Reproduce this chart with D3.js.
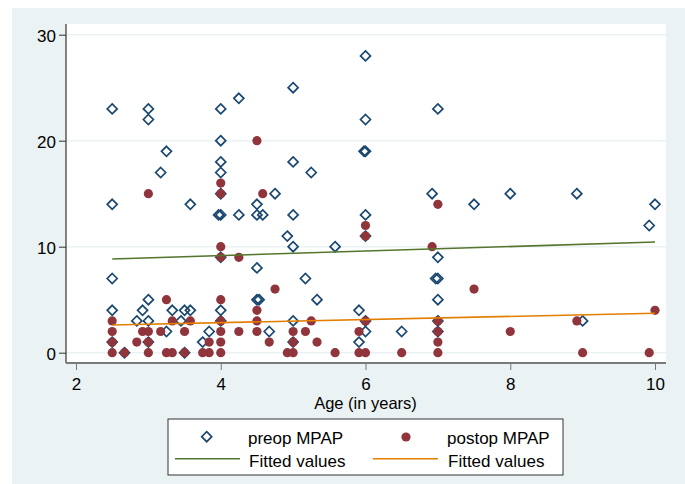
<!DOCTYPE html>
<html>
<head>
<meta charset="utf-8">
<script src="https://cdn.jsdelivr.net/npm/d3@7"></script>
<style>
  body { margin: 0; background: #fff; }
  text { font-family: "Liberation Sans", Arial, sans-serif; fill: #000; }
</style>
</head>
<body>
<svg id="chart"></svg>
<script>
// data
const preopAge = [2.5, 2.5, 2.5, 2.5, 2.5, 2.67, 2.84, 2.92, 3, 3, 3, 3, 3, 3.17, 3.25, 3.25, 3.33, 3.45, 3.5, 3.5,
  3.58, 3.58, 3.75, 3.84, 4, 4, 4, 4, 4, 4, 3.97, 4, 4, 4, 4.25, 4.25, 4.5, 4.5, 4.5, 4.5, 4.53, 4.58, 4.67, 4.75,
  4.92, 5, 5, 5, 5, 5, 5, 5.17, 5.25, 5.33, 5.58, 5.91, 5.91, 6, 6, 6, 5.98, 6, 6, 6, 6, 6.5, 6.92,
  7, 7, 7, 6.97, 7, 7, 7, 7.5, 8, 8.92, 9, 9.92, 10];
const preopMpap = [23, 14, 7, 4, 1, 0, 3, 4, 23, 22, 5, 3, 1, 17, 19, 2, 4, 3, 4, 0,
  14, 4, 1, 2, 23, 20, 18, 17, 15, 13, 13, 9, 4, 3, 24, 13, 14, 13, 8, 5, 5, 13, 2, 15,
  11, 25, 18, 13, 10, 3, 1, 7, 17, 5, 10, 4, 1, 28, 22, 19, 19, 13, 11, 3, 2, 2, 15,
  23, 9, 7, 7, 5, 3, 2, 14, 15, 15, 3, 12, 14];

const postopAge = [2.5, 2.5, 2.5, 2.5, 2.67, 2.84, 2.92, 3, 3, 3, 3, 3.17, 3.25, 3.25, 3.33, 3.33, 3.5, 3.5, 3.58,
  3.75, 3.84, 3.84, 4, 4, 4, 4, 4, 4, 4, 4, 4, 4.25, 4.25, 4.5, 4.5, 4.5, 4.5, 4.58, 4.67, 4.75, 4.92,
  5, 5, 5, 5.17, 5.25, 5.33, 5.58, 5.91, 5.91, 6, 6, 6, 6, 6.5, 6.92, 7, 7, 7, 7, 7, 7.5, 8, 8.92, 9, 9.92, 10];
const postopMpap = [3, 2, 1, 0, 0, 1, 2, 15, 2, 1, 0, 2, 5, 0, 3, 0, 2, 0, 3,
  0, 1, 0, 16, 15, 10, 9, 5, 3, 2, 1, 0, 9, 2, 20, 4, 3, 2, 15, 1, 6, 0,
  2, 1, 0, 2, 3, 1, 0, 2, 0, 12, 11, 3, 0, 0, 10, 14, 3, 2, 1, 0, 6, 2, 3, 0, 0, 4];

// fitted lines (end points)
const fitAge = [2.5, 10];
const fitPreop = [8.84, 10.44];
const fitPostop = [2.61, 3.72];

const xTicks = [2, 4, 6, 8, 10];
const yTicks = [0, 10, 20, 30];

const navy = "#1a476f", maroon = "#90353b", green = "#55752f", orange = "#e37e00";
const bg = "#eaf2f3";

const width = 685, height = 484;
const plot = { left: 66, right: 666, top: 24, bottom: 363 };

const svg = d3.select("#chart").attr("width", width).attr("height", height);

// outer background + plot region
svg.append("rect").attr("x", 12).attr("y", 8).attr("width", width - 12).attr("height", height - 8).attr("fill", bg);
svg.append("rect").attr("x", plot.left).attr("y", plot.top)
  .attr("width", plot.right - plot.left).attr("height", plot.bottom - plot.top).attr("fill", "#fff");

const x = d3.scaleLinear().domain([2, 10]).range([76, 655]);
const y = d3.scaleLinear().domain([0, 30]).range([352.7, 34.7]);

// grid
svg.append("g").selectAll("line")
  .data(yTicks)
  .join("line")
  .attr("x1", plot.left).attr("x2", plot.right)
  .attr("y1", d => y(d)).attr("y2", d => y(d))
  .attr("stroke", bg).attr("stroke-width", 1.6);

// axes
const yAxis = svg.append("g")
  .attr("transform", `translate(${plot.left},0)`)
  .call(d3.axisLeft(y).tickValues(yTicks).tickSize(7).tickPadding(3));
yAxis.select(".domain").remove();
yAxis.selectAll("text").attr("font-size", 17).attr("dy", "0.42em");
yAxis.selectAll(".tick line").attr("stroke", "#333");

const xAxis = svg.append("g")
  .attr("transform", `translate(0,${plot.bottom})`)
  .call(d3.axisBottom(x).tickValues(xTicks).tickSize(7).tickPadding(8));
xAxis.select(".domain").remove();
xAxis.selectAll("text").attr("font-size", 17);
xAxis.selectAll(".tick line").attr("stroke", "#777");

svg.append("line")
  .attr("x1", plot.left).attr("x2", plot.left).attr("y1", plot.top).attr("y2", plot.bottom)
  .attr("stroke", "#333").attr("stroke-width", 1.2);
svg.append("line")
  .attr("x1", plot.left).attr("x2", plot.right).attr("y1", plot.bottom).attr("y2", plot.bottom)
  .attr("stroke", "#7a7a7a").attr("stroke-width", 1.8);

svg.append("text")
  .attr("x", x(6)).attr("y", 409)
  .attr("text-anchor", "middle").attr("font-size", 16.5)
  .text("Age (in years)");

// markers
const diamond = r => `M0,${-r}L${r},0L0,${r}L${-r},0Z`;

svg.append("g").selectAll("path")
  .data(d3.zip(preopAge, preopMpap))
  .join("path")
  .attr("transform", d => `translate(${x(d[0])},${y(d[1])})`)
  .attr("d", diamond(5))
  .attr("fill", "none").attr("stroke", navy).attr("stroke-width", 1.7);

svg.append("g").selectAll("circle")
  .data(d3.zip(postopAge, postopMpap))
  .join("circle")
  .attr("cx", d => x(d[0])).attr("cy", d => y(d[1]))
  .attr("r", 4.6)
  .attr("fill", maroon);

// fitted lines
const line = d3.line().x(d => x(d[0])).y(d => y(d[1]));
svg.append("path").datum(d3.zip(fitAge, fitPreop))
  .attr("d", line).attr("fill", "none").attr("stroke", green).attr("stroke-width", 1.6);
svg.append("path").datum(d3.zip(fitAge, fitPostop))
  .attr("d", line).attr("fill", "none").attr("stroke", orange).attr("stroke-width", 1.6);

// legend
const legend = svg.append("g");
legend.append("rect").attr("x", 168).attr("y", 419).attr("width", 395).attr("height", 56)
  .attr("fill", "#fff").attr("stroke", "#333").attr("stroke-width", 1);

legend.append("path").attr("transform", "translate(206.7,436.7)").attr("d", diamond(5))
  .attr("fill", "none").attr("stroke", navy).attr("stroke-width", 1.7);
legend.append("circle").attr("cx", 406).attr("cy", 437).attr("r", 4.6).attr("fill", maroon);
legend.append("line").attr("x1", 175).attr("x2", 240).attr("y1", 458.7).attr("y2", 458.7)
  .attr("stroke", green).attr("stroke-width", 1.6);
legend.append("line").attr("x1", 373).attr("x2", 438).attr("y1", 458.7).attr("y2", 458.7)
  .attr("stroke", orange).attr("stroke-width", 1.6);

const legendText = [["preop MPAP", 248, 443.5], ["postop MPAP", 447, 443.5],
  ["Fitted values", 249, 466.5], ["Fitted values", 448, 466.5]];
legend.selectAll("text.lbl")
  .data(legendText)
  .join("text")
  .attr("class", "lbl")
  .attr("x", d => d[1]).attr("y", d => d[2])
  .attr("font-size", 17)
  .text(d => d[0]);
</script>
</body>
</html>
